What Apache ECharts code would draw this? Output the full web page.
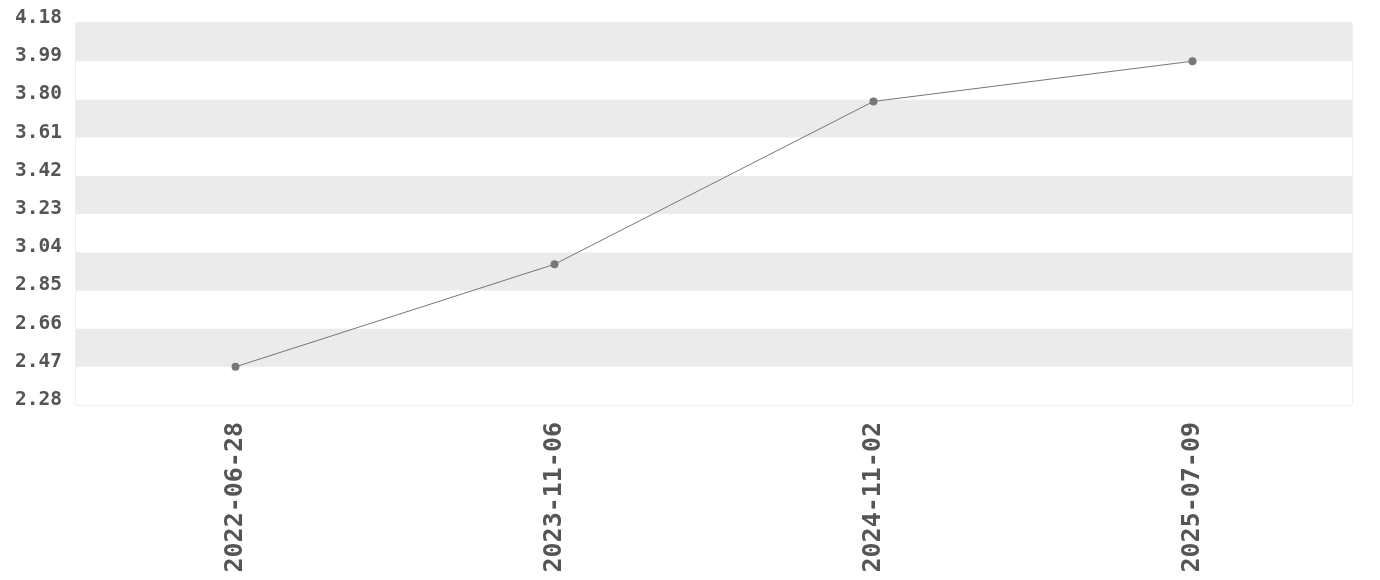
<!DOCTYPE html>
<html><head><meta charset="utf-8">
<script src="https://cdn.jsdelivr.net/npm/echarts@6/dist/echarts.min.js"></script>
<style>html,body{margin:0;padding:0;background:#fff}#c{width:1380px;height:580px}</style>
</head><body><div id="c"></div>
<script>
const categories = ['2022-06-28', '2023-11-06', '2024-11-02', '2025-07-09'];
const values = [2.47, 2.98, 3.79, 3.99];
const yMin = 2.28, yMax = 4.18, yStep = 0.19;

const font = '"DejaVu Sans Mono", monospace';
const chart = echarts.init(document.getElementById('c'));
chart.setOption({
  animation: false,
  grid: { left: 76, right: 28, top: 23, bottom: 175, show: true, borderColor: '#dddddd', borderWidth: 1, containLabel: false },
  xAxis: {
    type: 'category', data: categories, boundaryGap: true,
    axisLine: { show: false }, axisTick: { show: false }, splitLine: { show: false },
    axisLabel: { rotate: 90, margin: 17, color: '#555', fontFamily: font, fontWeight: 'bold', fontSize: 25 }
  },
  yAxis: {
    type: 'value', min: yMin, max: yMax, interval: yStep,
    axisLine: { show: false }, axisTick: { show: false }, splitLine: { show: false },
    splitArea: { show: true, areaStyle: { color: ['#ffffff', '#ebebeb'] } },
    axisLabel: { color: '#555', fontFamily: font, fontWeight: 'bold', fontSize: 19.5, margin: 14,
      verticalAlign: 'bottom', lineHeight: 10,
      formatter: v => v.toFixed(2) }
  },
  series: [{
    type: 'line', data: values, symbol: 'circle', symbolSize: 8,
    lineStyle: { color: '#777', width: 1 }, itemStyle: { color: '#777' }
  }]
});
</script></body></html>
